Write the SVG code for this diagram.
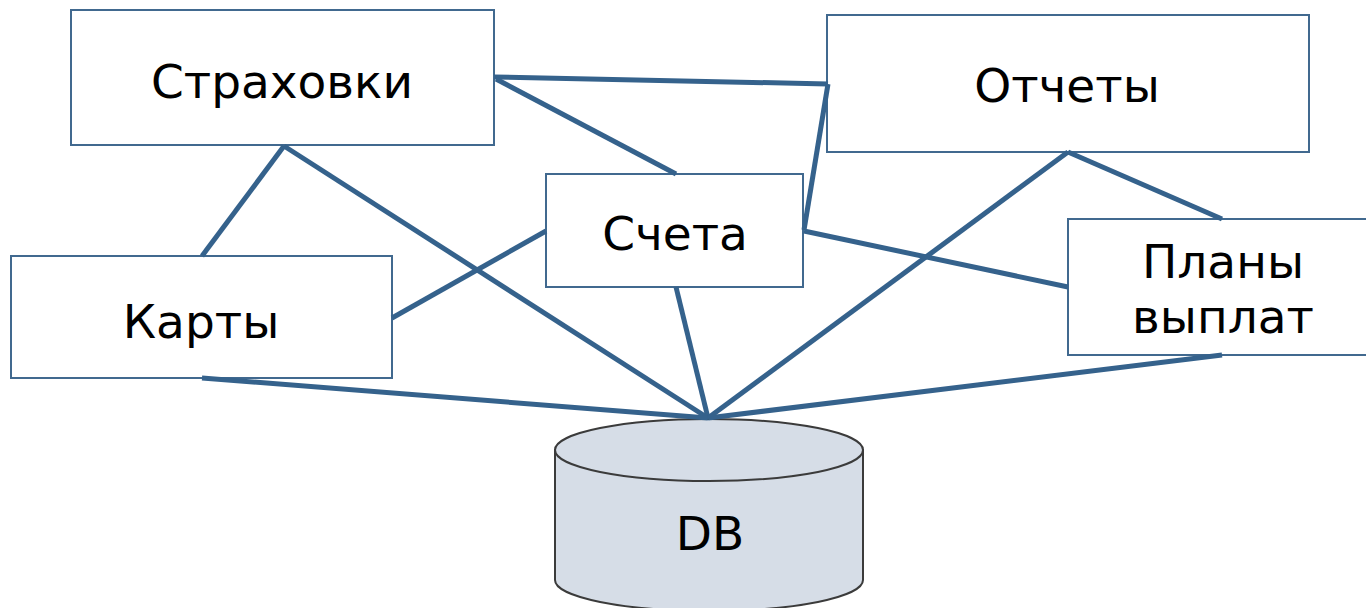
<svg xmlns="http://www.w3.org/2000/svg" width="1366" height="608" viewBox="0 0 1366 608">
  <style>
    .box { fill: #ffffff; stroke: #41698f; stroke-width: 2; }
    .lbl { font-family: "DejaVu Sans", Verdana, sans-serif; font-size: 47px; fill: #000000; text-anchor: middle; }
    .link { stroke: #35628c; stroke-width: 5; fill: none; stroke-linecap: butt; }
    .db { fill: #d6dde7; stroke: #3b3b3b; stroke-width: 2; }
  </style>

  <!-- nodes -->
  <g id="node-strahovki">
    <rect class="box" x="71" y="10" width="423" height="135"/>
    <text class="lbl" x="282" y="98">Страховки</text>
  </g>
  <g id="node-otchety">
    <rect class="box" x="827" y="15" width="482" height="137"/>
    <text class="lbl" x="1067" y="102">Отчеты</text>
  </g>
  <g id="node-scheta">
    <rect class="box" x="546" y="174" width="257" height="113"/>
    <text class="lbl" x="675" y="250">Счета</text>
  </g>
  <g id="node-karty">
    <rect class="box" x="11" y="256" width="381" height="122"/>
    <text class="lbl" x="201" y="338">Карты</text>
  </g>
  <g id="node-plany">
    <rect class="box" x="1068" y="219" width="300" height="136"/>
    <text class="lbl" x="1223" y="278">Планы</text>
    <text class="lbl" x="1223" y="333">выплат</text>
  </g>
  <g id="node-db">
    <path class="db" d="M555,450 L555,580 A154,31 0 0 0 863,580 L863,450 Z"/>
    <ellipse class="db" cx="709" cy="450" rx="154" ry="31"/>
    <text class="lbl" x="710" y="550">DB</text>
  </g>

  <!-- connectors -->
  <g id="connectors">
    <line class="link" x1="494" y1="77" x2="828" y2="84"/>
    <line class="link" x1="496" y1="79" x2="676" y2="174"/>
    <line class="link" x1="828" y1="84" x2="804" y2="230"/>
    <line class="link" x1="284" y1="146" x2="202" y2="256"/>
    <line class="link" x1="284" y1="146" x2="708" y2="418"/>
    <line class="link" x1="546" y1="231" x2="392" y2="318"/>
    <line class="link" x1="676" y1="287" x2="708" y2="418"/>
    <line class="link" x1="1068" y1="152" x2="708" y2="418"/>
    <line class="link" x1="1068" y1="152" x2="1222" y2="219"/>
    <line class="link" x1="804" y1="231" x2="1068" y2="287"/>
    <line class="link" x1="202" y1="378" x2="708" y2="418"/>
    <line class="link" x1="1222" y1="355" x2="708" y2="418"/>
  </g>
</svg>
